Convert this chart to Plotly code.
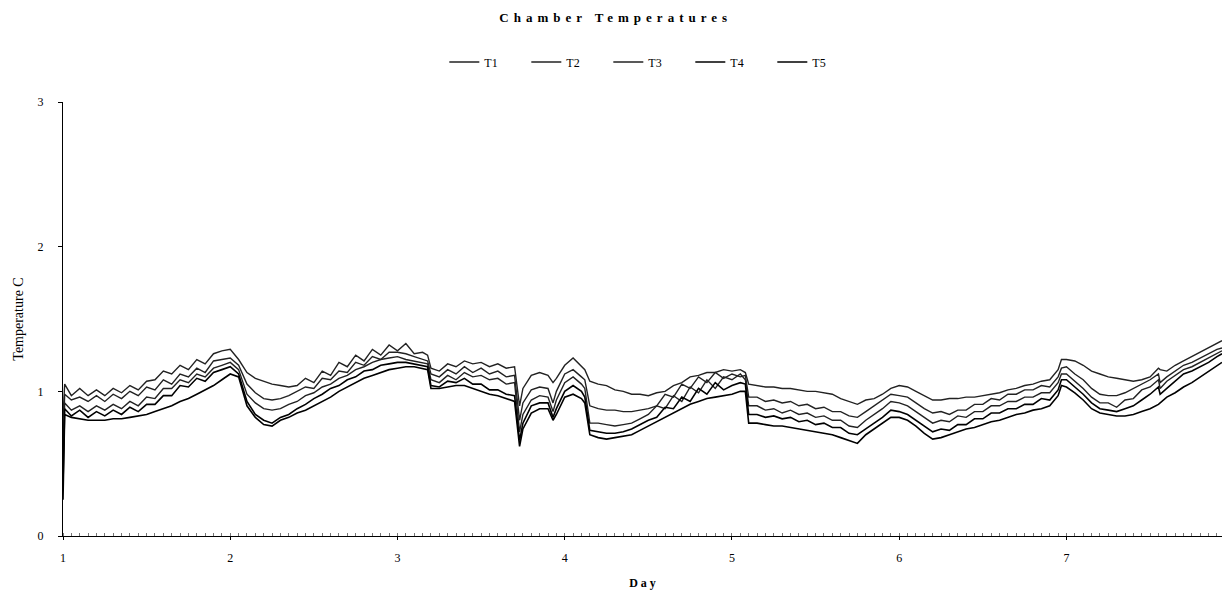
import plotly.graph_objects as go

# ---- data ----
DAY = [
    1.00, 1.01, 1.05, 1.10, 1.15, 1.20, 1.25, 1.30, 1.35, 1.40, 1.45, 1.50, 1.55, 1.60, 1.65, 1.70, 1.75, 1.80, 1.85, 1.90, 1.95,
    2.00, 2.05, 2.10, 2.15, 2.20, 2.25, 2.30, 2.35, 2.40, 2.45, 2.50, 2.55, 2.60, 2.65, 2.70, 2.75, 2.80, 2.85, 2.90, 2.95,
    3.00, 3.05, 3.10, 3.15, 3.18, 3.20, 3.25, 3.30, 3.35, 3.40, 3.45, 3.50, 3.55, 3.60, 3.65, 3.70, 3.73, 3.75, 3.80, 3.85, 3.90, 3.93, 3.95,
    4.00, 4.05, 4.10, 4.12, 4.15, 4.20, 4.25, 4.30, 4.35, 4.40, 4.45, 4.50, 4.55, 4.60, 4.65, 4.70, 4.75, 4.80, 4.85, 4.90, 4.95,
    5.00, 5.05, 5.08, 5.10, 5.15, 5.20, 5.25, 5.30, 5.35, 5.40, 5.45, 5.50, 5.55, 5.60, 5.65, 5.70, 5.75, 5.80, 5.85, 5.90, 5.95,
    6.00, 6.05, 6.10, 6.15, 6.20, 6.25, 6.30, 6.35, 6.40, 6.45, 6.50, 6.55, 6.60, 6.65, 6.70, 6.75, 6.80, 6.85, 6.90, 6.95, 6.97,
    7.00, 7.05, 7.10, 7.15, 7.20, 7.25, 7.30, 7.35, 7.40, 7.45, 7.50, 7.55, 7.56, 7.60, 7.65, 7.70, 7.75, 7.80, 7.85, 7.90, 7.93,
]

T1 = [
    0.82, 1.05, 0.97, 1.02, 0.97, 1.01, 0.97, 1.02, 0.99, 1.04, 1.01, 1.07, 1.08, 1.14, 1.12, 1.18, 1.15, 1.22, 1.19, 1.26, 1.28,
    1.29, 1.22, 1.13, 1.09, 1.07, 1.05, 1.04, 1.03, 1.04, 1.09, 1.06, 1.14, 1.11, 1.20, 1.17, 1.25, 1.21, 1.29, 1.25, 1.32,
    1.28, 1.33, 1.26, 1.27, 1.25, 1.16, 1.14, 1.19, 1.17, 1.21, 1.19, 1.20, 1.17, 1.19, 1.16, 1.17, 0.90, 1.02, 1.11, 1.13, 1.11, 1.06, 1.09,
    1.18, 1.23, 1.17, 1.15, 1.07, 1.05, 1.04, 1.01, 1.00, 0.98, 0.98, 0.97, 0.99, 1.00, 1.04, 1.06, 1.10, 1.11, 1.13, 1.13, 1.15,
    1.14, 1.15, 1.13, 1.05, 1.04, 1.03, 1.03, 1.02, 1.02, 1.01, 1.00, 1.00, 0.99, 0.98, 0.95, 0.93, 0.91, 0.94, 0.95, 0.98, 1.02,
    1.04, 1.03, 1.00, 0.97, 0.94, 0.94, 0.95, 0.95, 0.96, 0.96, 0.97, 0.98, 0.99, 1.01, 1.02, 1.04, 1.05, 1.07, 1.08, 1.15, 1.22,
    1.22, 1.21, 1.18, 1.14, 1.12, 1.10, 1.09, 1.08, 1.07, 1.08, 1.10, 1.16, 1.15, 1.14, 1.18, 1.21, 1.24, 1.27, 1.30, 1.33, 1.35,
]
T2 = [
    0.62, 0.98, 0.94, 0.96, 0.93, 0.97, 0.93, 0.98, 0.95, 1.00, 0.97, 1.03, 1.01, 1.08, 1.05, 1.12, 1.10, 1.16, 1.13, 1.21, 1.22,
    1.23, 1.18, 1.05, 0.99, 0.95, 0.94, 0.95, 0.97, 1.00, 1.03, 1.02, 1.09, 1.08, 1.14, 1.13, 1.20, 1.18, 1.24, 1.22, 1.27,
    1.27, 1.26, 1.24, 1.22, 1.21, 1.12, 1.10, 1.15, 1.12, 1.17, 1.13, 1.16, 1.12, 1.14, 1.10, 1.11, 0.80, 0.92, 1.01, 1.03, 1.02, 0.92, 1.00,
    1.12, 1.15, 1.10, 1.08, 0.90, 0.88, 0.87, 0.87, 0.86, 0.86, 0.87, 0.88, 0.90, 0.98, 0.96, 1.05, 1.02, 1.10, 1.06, 1.13, 1.09,
    1.12, 1.10, 1.11, 0.96, 0.96, 0.93, 0.94, 0.92, 0.93, 0.90, 0.91, 0.88, 0.89, 0.86, 0.86, 0.83, 0.82, 0.86, 0.90, 0.94, 0.98,
    0.97, 0.96, 0.92, 0.88, 0.85, 0.86, 0.84, 0.87, 0.87, 0.91, 0.91, 0.95, 0.94, 0.98, 0.98, 1.01, 1.01, 1.04, 1.03, 1.10, 1.16,
    1.17, 1.12, 1.08, 1.02, 0.98, 0.97, 0.97, 0.99, 1.02, 1.05, 1.08, 1.12, 1.06, 1.10, 1.14, 1.18, 1.20, 1.23, 1.26, 1.29, 1.30,
]
T3 = [
    0.48, 0.92, 0.87, 0.90, 0.86, 0.90, 0.87, 0.91, 0.88, 0.93, 0.90, 0.96, 0.95, 1.02, 1.02, 1.08, 1.06, 1.12, 1.10, 1.16, 1.18,
    1.20, 1.15, 0.98, 0.92, 0.88, 0.87, 0.88, 0.91, 0.93, 0.97, 0.99, 1.03, 1.05, 1.09, 1.11, 1.15, 1.17, 1.20, 1.22, 1.23,
    1.24, 1.22, 1.21, 1.20, 1.19, 1.08, 1.06, 1.11, 1.08, 1.13, 1.10, 1.11, 1.08, 1.09, 1.05, 1.06, 0.72, 0.84, 0.94, 0.97, 0.96, 0.86, 0.94,
    1.06, 1.10, 1.05, 1.02, 0.78, 0.78, 0.77, 0.76, 0.77, 0.78, 0.81, 0.84, 0.90, 0.88, 0.97, 0.93, 1.03, 0.99, 1.08, 1.02, 1.10,
    1.08, 1.12, 1.08, 0.90, 0.90, 0.87, 0.88, 0.85, 0.87, 0.84, 0.85, 0.82, 0.83, 0.80, 0.80, 0.76, 0.75, 0.80, 0.84, 0.88, 0.93,
    0.92, 0.90, 0.86, 0.82, 0.78, 0.80, 0.79, 0.83, 0.82, 0.86, 0.86, 0.90, 0.90, 0.93, 0.93, 0.96, 0.96, 0.99, 0.99, 1.06, 1.12,
    1.12, 1.07, 1.02, 0.96, 0.92, 0.92, 0.89, 0.94, 0.95, 1.01, 1.03, 1.08, 1.02, 1.07, 1.11, 1.15, 1.17, 1.20, 1.23, 1.26, 1.28,
]
T4 = [
    0.36, 0.88, 0.83, 0.87, 0.82, 0.86, 0.83, 0.87, 0.84, 0.89, 0.86, 0.91, 0.91, 0.97, 0.97, 1.04, 1.03, 1.09, 1.07, 1.13, 1.15,
    1.17, 1.12, 0.93, 0.84, 0.80, 0.78, 0.82, 0.84, 0.88, 0.91, 0.95, 0.98, 1.02, 1.04, 1.08, 1.10, 1.14, 1.15, 1.18, 1.19,
    1.20, 1.20, 1.19, 1.18, 1.17, 1.04, 1.03, 1.07, 1.06, 1.09, 1.05, 1.05, 1.01, 1.01, 0.98, 0.97, 0.66, 0.78, 0.90, 0.92, 0.92, 0.82, 0.88,
    1.00, 1.04, 1.00, 0.96, 0.73, 0.72, 0.71, 0.71, 0.72, 0.74, 0.77, 0.80, 0.82, 0.89, 0.88, 0.96, 0.93, 1.02, 0.98, 1.06, 1.01,
    1.04, 1.06, 1.05, 0.84, 0.84, 0.82, 0.83, 0.81, 0.82, 0.79, 0.80, 0.77, 0.78, 0.75, 0.75, 0.71, 0.70, 0.74, 0.78, 0.82, 0.87,
    0.86, 0.84, 0.80, 0.76, 0.72, 0.74, 0.73, 0.77, 0.77, 0.81, 0.81, 0.85, 0.85, 0.88, 0.88, 0.91, 0.91, 0.95, 0.94, 1.01, 1.08,
    1.08, 1.03, 0.98, 0.92, 0.88, 0.87, 0.86, 0.88, 0.90, 0.94, 0.98, 1.03, 0.98, 1.02, 1.07, 1.12, 1.14, 1.17, 1.20, 1.24, 1.26,
]
T5 = [
    0.25, 0.84, 0.82, 0.81, 0.80, 0.80, 0.80, 0.81, 0.81, 0.82, 0.83, 0.84, 0.86, 0.88, 0.90, 0.93, 0.95, 0.98, 1.01, 1.04, 1.08,
    1.12, 1.10, 0.90, 0.82, 0.77, 0.76, 0.80, 0.82, 0.85, 0.87, 0.90, 0.93, 0.96, 1.00, 1.03, 1.06, 1.09, 1.11, 1.13, 1.15,
    1.16, 1.17, 1.17, 1.16, 1.15, 1.02, 1.02, 1.03, 1.04, 1.04, 1.02, 1.00, 0.98, 0.97, 0.95, 0.93, 0.62, 0.74, 0.85, 0.88, 0.88, 0.80, 0.84,
    0.96, 0.98, 0.95, 0.92, 0.70, 0.68, 0.67, 0.68, 0.69, 0.70, 0.73, 0.76, 0.79, 0.82, 0.85, 0.88, 0.91, 0.93, 0.95, 0.96, 0.97,
    0.98, 1.00, 1.00, 0.78, 0.78, 0.77, 0.76, 0.76, 0.75, 0.74, 0.73, 0.72, 0.71, 0.70, 0.68, 0.66, 0.64, 0.70, 0.74, 0.78, 0.82,
    0.82, 0.80, 0.76, 0.71, 0.67, 0.68, 0.70, 0.72, 0.74, 0.75, 0.77, 0.79, 0.80, 0.82, 0.84, 0.85, 0.87, 0.88, 0.90, 0.97, 1.04,
    1.03, 0.99, 0.94, 0.88, 0.85, 0.84, 0.83, 0.83, 0.84, 0.86, 0.88, 0.91, 0.92, 0.96, 0.99, 1.03, 1.06, 1.10, 1.14, 1.18, 1.20,
]

SERIES = {"T1": T1, "T2": T2, "T3": T3, "T4": T4, "T5": T5}
LINE_COLORS = {"T1": "#222222", "T2": "#222222", "T3": "#222222", "T4": "#000000", "T5": "#000000"}
LINE_WIDTHS = {"T1": 1.4, "T2": 1.4, "T3": 1.4, "T4": 1.6, "T5": 1.6}

X_TICKS = [1, 2, 3, 4, 5, 6, 7]
Y_TICKS = [0, 1, 2, 3]

for name, vals in SERIES.items():
    assert len(vals) == len(DAY), (name, len(vals), len(DAY))

SERIF = "Liberation Serif, Times New Roman, serif"

fig = go.Figure()
for name, vals in SERIES.items():
    fig.add_trace(go.Scatter(
        x=DAY, y=vals, mode="lines", name=name,
        line=dict(color=LINE_COLORS[name], width=LINE_WIDTHS[name]),
    ))

fig.update_layout(
    width=1224, height=596,
    margin=dict(l=63, r=2, t=102, b=60),
    paper_bgcolor="white", plot_bgcolor="white",
    font=dict(family=SERIF, size=11, color="black"),
    title=dict(
        text='<span style="letter-spacing:5px"><b>Chamber Temperatures</b></span>',
        x=0.503, xanchor="center", y=0.971, yanchor="middle",
        font=dict(family=SERIF, size=13, color="black"),
    ),
    legend=dict(
        orientation="h", x=0.329, xanchor="left", y=1.092, yanchor="middle",
        font=dict(family=SERIF, size=12, color="black"),
        bgcolor="rgba(0,0,0,0)", entrywidth=37, entrywidthmode="pixels",
    ),
    showlegend=True,
)

fig.update_xaxes(
    range=[1, 7.93], tickmode="array", tickvals=X_TICKS, ticktext=[str(v) for v in X_TICKS],
    showgrid=False, zeroline=False, showline=True, linecolor="black", linewidth=1,
    ticks="outside", ticklen=3, tickcolor="black", ticklabelstandoff=8,
    tickfont=dict(family=SERIF, size=12),
    minor=dict(ticks="inside", ticklen=3, dtick=0.05, tickcolor="#777777", tickwidth=1),
    title=dict(text="<b>D a y</b>", font=dict(family=SERIF, size=12), standoff=14),
)
fig.update_yaxes(
    range=[0, 3], tickmode="array", tickvals=Y_TICKS, ticktext=[str(v) for v in Y_TICKS],
    showgrid=False, zeroline=False, showline=True, linecolor="black", linewidth=1,
    ticks="outside", ticklen=4, tickcolor="black", ticklabelstandoff=12,
    tickfont=dict(family=SERIF, size=12),
    title=dict(text="Temperature C", font=dict(family=SERIF, size=14), standoff=10),
)

fig.write_html("out.html")
